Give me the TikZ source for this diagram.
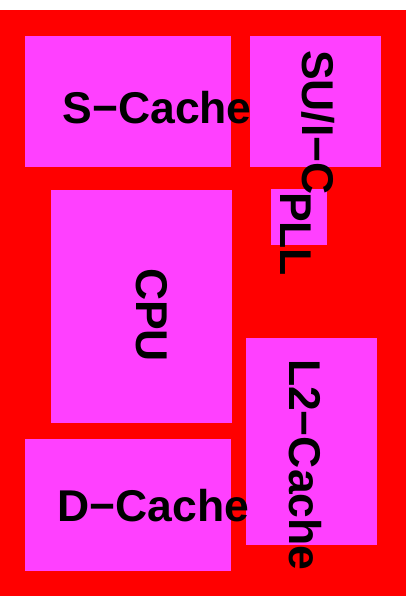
\documentclass[tikz,border=0pt]{standalone}
\usepackage{fontspec}
\setmainfont{Liberation Sans}
\definecolor{diebg}{RGB}{255,0,0}
\definecolor{blockfill}{RGB}{255,64,255}
\begin{document}
\begin{tikzpicture}[x=1pt,y=-1pt,
  block/.style={fill=blockfill,draw=none},
  lbl/.style={inner sep=0pt,outer sep=0pt,anchor=base west,font=\fontsize{44.5}{44.5}\selectfont\bfseries},
  vlbl/.style={lbl,rotate=-90}]
\useasboundingbox (0,0) rectangle (411,597);
\fill[diebg] (0,10) rectangle (406,596);
\fill[block] (25,36) rectangle (231,167);
\fill[block] (250,36) rectangle (381,167);
\fill[block] (51,190) rectangle (232,423);
\fill[block] (271,189) rectangle (327,245);
\fill[block] (246,338) rectangle (377,545);
\fill[block] (25,439) rectangle (231,571);
\node[lbl] (scache) at (62.5,123) {S−Cache};
\node[lbl] (dcache) at (57.5,521.5) {D−Cache};
\node[vlbl] (sui) at (302,50) {SU/I−C};
\node[vlbl] (pll) at (280,192) {PLL};
\node[vlbl] (cpu) at (136,268) {CPU};
\node[vlbl] (l2) at (289,359) {L2−Cache};
\end{tikzpicture}
\end{document}
